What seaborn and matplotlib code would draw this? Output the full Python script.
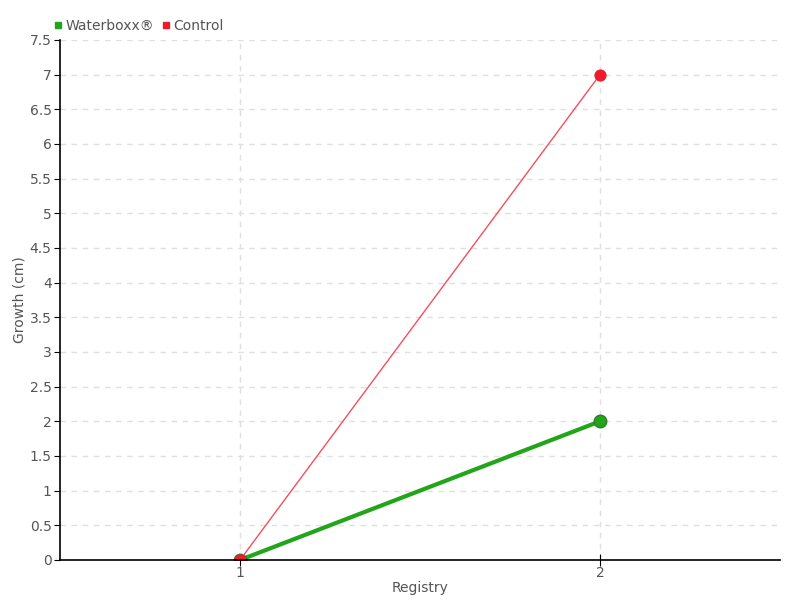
import pandas as pd
import seaborn as sns
import matplotlib.pyplot as plt
from matplotlib.lines import Line2D

registry = [1, 2]
waterboxx = [0, 2]
control = [0, 7]

df = pd.DataFrame({
    "Registry": registry * 2,
    "Growth": waterboxx + control,
    "Series": ["Waterboxx®"] * 2 + ["Control"] * 2,
})

sns.set_style("white")
plt.rcParams["font.family"] = ["DejaVu Sans"]
text_col = "#555555"

fig = plt.figure(figsize=(8, 6), dpi=100)
ax = fig.add_axes([0.075, 0.0667, 0.9, 0.8667])

ax.grid(True, color="#e0e0e0", linestyle=(0, (4, 4)), linewidth=1)
ax.set_axisbelow(True)

green = "#22a51a"
red = "#ee1c2b"

sns.lineplot(data=df[df["Series"] == "Waterboxx®"], x="Registry", y="Growth",
             color=green, linewidth=3, marker="o", markersize=9,
             markeredgecolor="#2f7a2a", markeredgewidth=1, ax=ax, legend=False)
sns.lineplot(data=df[df["Series"] == "Control"], x="Registry", y="Growth",
             color="#f2505c", linewidth=1, marker="o", markersize=8,
             markerfacecolor=red, markeredgecolor=red, ax=ax, legend=False)

ax.set_xlim(0.5, 2.5)
ax.set_ylim(0, 7.5)
ax.set_xticks(registry)
ax.set_xticklabels(["1", "2"])
yt = [i * 0.5 for i in range(16)]
ax.set_yticks(yt)
ax.set_yticklabels([("%g" % v) for v in yt])

for s in ["top", "right"]:
    ax.spines[s].set_visible(False)
for s in ["left", "bottom"]:
    ax.spines[s].set_color("black")
    ax.spines[s].set_linewidth(1.2)

ax.tick_params(axis="both", which="both", length=4, color="black", pad=2,
               labelsize=10, labelcolor=text_col, direction="out", left=True, bottom=True)
ax.tick_params(axis="x", direction="inout", length=8, pad=0)
ax.set_xlabel("Registry", color=text_col, fontsize=10, labelpad=1)
ax.set_ylabel("Growth (cm)", color=text_col, fontsize=10, labelpad=2)

handles = [
    Line2D([], [], marker="s", linestyle="none", color=green, markersize=5),
    Line2D([], [], marker="s", linestyle="none", color=red, markersize=5),
]
leg = fig.legend(handles, ["Waterboxx®", "Control"], loc="upper left",
                 bbox_to_anchor=(0.052, 0.99), ncol=2, frameon=False,
                 handlelength=0.6, handletextpad=0.2, columnspacing=0.6,
                 fontsize=10)
for t in leg.get_texts():
    t.set_color(text_col)

fig.savefig("out.png", dpi=100)
